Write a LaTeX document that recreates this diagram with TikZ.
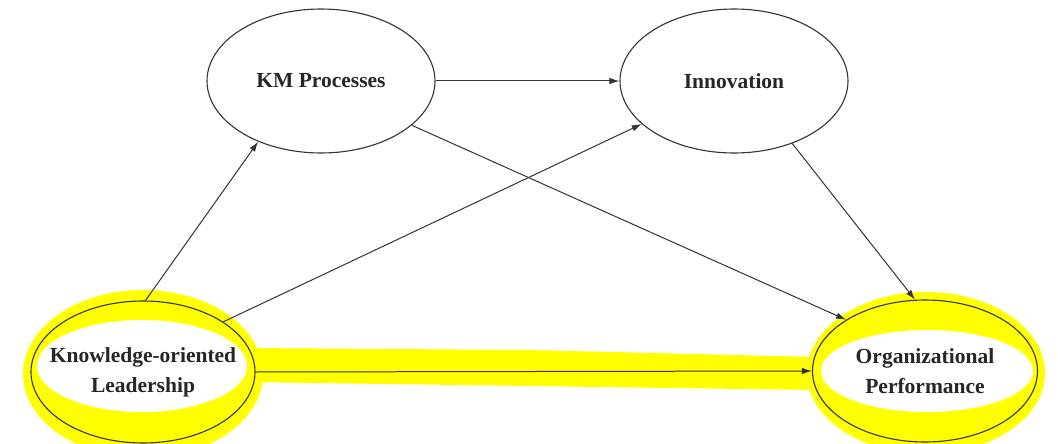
\documentclass[tikz,border=0pt]{standalone}
\usepackage{fontspec}
\setmainfont{Liberation Serif}
\usetikzlibrary{shapes.geometric,arrows.meta}
\definecolor{inkgray}{HTML}{333333}
\definecolor{hilite}{HTML}{FFFF00}
\tikzset{
  construct/.style={ellipse, draw=inkgray, line width=1.1pt, inner sep=-40pt,
    minimum width=#1, minimum height=142pt, align=center, text=black!85,
    font=\bfseries\fontsize{21.5}{30}\selectfont},
  path link/.style={draw=inkgray, line width=1pt,
    -{Latex[length=10pt,width=6.5pt]}},
}
\begin{document}
\begin{tikzpicture}[x=1pt,y=-1pt]
\useasboundingbox (0,0) rectangle (1058,444);

% highlighter marks behind the two outer constructs and their direct link
\fill[hilite] (143,374) ellipse [x radius=120, y radius=84];
\fill[hilite] (926,373) ellipse [x radius=119, y radius=81];
\fill[hilite] (245,348) -- (530,350) -- (815,357) -- (815,390) -- (530,386) -- (245,382) -- cycle;
\fill[white] (142,366) ellipse [x radius=105, y radius=46];
\fill[white] (927,371) ellipse [x radius=106, y radius=41];

% constructs
\node[construct=228pt, minimum height=144pt] (kmp) at (321,81) {KM Processes};
\node[construct=228pt, minimum height=144pt] (inn) at (734,81) {Innovation};
\node[construct=224pt] (kol) at (143,372) {Knowledge-oriented\\Leadership};
\node[construct=225pt] (op)  at (925,371) {Organizational\\Performance};

% hypothesised paths
\draw[path link] (kol.88)  -- (kmp.224);
\draw[path link] (kol.32)  -- (inn.205);
\draw[path link] (kmp.east) -- (inn.west);
\draw[path link] (kmp.334) -- (op.147);
\draw[path link] (inn.313) -- (op.98);
\draw[path link] (kol.east) -- (op.west);
\end{tikzpicture}
\end{document}
